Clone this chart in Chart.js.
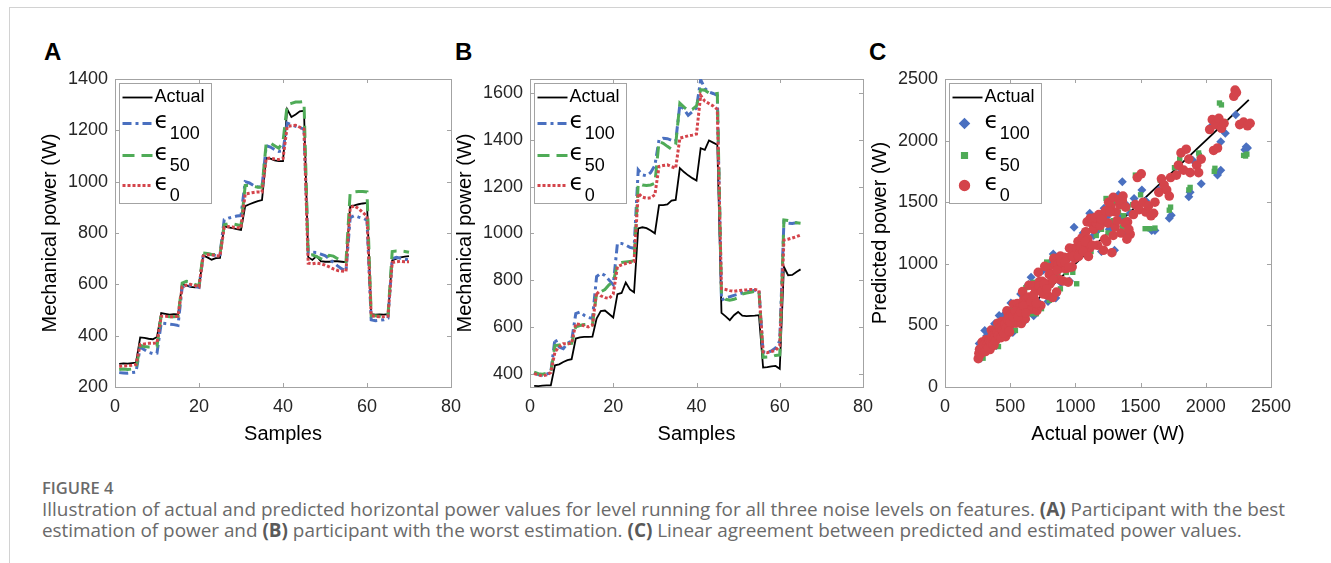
<!DOCTYPE html>
<html>
<head>
<meta charset="utf-8">
<script src="https://cdn.jsdelivr.net/npm/chart.js@4.4.0/dist/chart.umd.min.js"></script>
<style>
  body { margin:0; width:1331px; height:563px; background:#fff; position:relative; overflow:hidden; font-family:'Liberation Sans', Arial, sans-serif; }
  .frameTop { position:absolute; left:9px; top:7px; right:0; height:0; border-top:1px solid #d2d2d2; }
  .frameLeft { position:absolute; left:9px; top:7px; bottom:0; width:0; border-left:1px solid #d2d2d2; }
  .panel { position:absolute; font-weight:bold; font-size:24px; color:#000; }
  .wrap { position:absolute; top:60px; }
  #cap { position:absolute; left:42px; top:477px; width:1289px; font-family:'Open Sans', sans-serif; color:#6a6a6a; font-size:18.9px; line-height:21.5px; white-space:nowrap; }
  #cap .fig { font-weight:600; font-size:16.5px; }
  #cap b { font-weight:700; color:#5a5a5a; }
</style>
</head>
<body>
<div class="frameTop"></div>
<div class="frameLeft"></div>
<div class="panel" style="left:44px;top:38px">A</div>
<div class="panel" style="left:455px;top:38px">B</div>
<div class="panel" style="left:869px;top:38px">C</div>
<div class="wrap" style="left:30px"><canvas id="chartA" width="440" height="400"></canvas></div>
<div class="wrap" style="left:445px"><canvas id="chartB" width="440" height="400"></canvas></div>
<div class="wrap" style="left:860px"><canvas id="chartC" width="440" height="400"></canvas></div>
<div id="cap">
  <div class="fig">FIGURE 4</div>
  <div>Illustration of actual and predicted horizontal power values for level running for all three noise levels on features. <b>(A)</b> Participant with the best<br>estimation of power and <b>(B)</b> participant with the worst estimation. <b>(C)</b> Linear agreement between predicted and estimated power values.</div>
</div>
<script>
var seriesNames = ['Actual', 'ϵ_100', 'ϵ_50', 'ϵ_0'];
var xTicksAB = [0, 20, 40, 60, 80];
var yTicksA = [200, 400, 600, 800, 1000, 1200, 1400];
var yTicksB = [400, 600, 800, 1000, 1200, 1400, 1600];
var ticksC = [0, 500, 1000, 1500, 2000, 2500];

// panel A : 70 samples
var actualA = [290,292,291,293,295, 393,391,388,386,395, 488,485,482,484,483, 602,596,590,588,590,
  713,705,696,702,703, 826,822,819,815,812, 905,912,918,924,928, 1093,1090,1083,1080,1080,
  1282,1252,1262,1274,1276, 706,695,710,690,688, 688,690,690,688,686, 905,908,912,915,917,
  484,482,483,482,484, 693,700,705,708,710];
var e100A = [256,255,254,256,258, 355,345,335,330,332, 449,447,445,443,440, 590,592,595,592,588,
  713,718,716,712,715, 852,858,862,866,868, 1000,995,985,980,978, 1140,1135,1125,1118,1120,
  1228,1222,1216,1210,1205, 722,725,724,718,712, 700,685,672,660,652, 860,868,862,858,850,
  462,458,460,462,468, 700,705,702,698,695];
var e50A = [268,270,268,270,272, 362,358,356,356,358, 478,476,474,474,475, 605,612,610,600,595,
  722,720,716,716,718, 832,836,836,832,828, 985,985,982,978,978, 1150,1150,1140,1130,1155,
  1300,1305,1310,1310,1312, 712,715,708,700,695, 713,710,700,692,688, 958,960,962,962,960,
  478,478,476,476,478, 728,730,730,728,725];
var e0A = [280,282,283,285,288, 365,368,370,370,372, 476,476,474,474,476, 590,597,600,595,590,
  710,715,715,712,710, 822,825,823,820,820, 952,955,958,960,960, 1090,1092,1088,1086,1090,
  1215,1218,1220,1212,1205, 682,680,683,680,675, 668,660,654,652,650, 900,905,895,880,865,
  478,475,474,474,476, 685,688,690,688,688];

// panel B : 65 samples
var actualB = [348,347,349,350,350, 436,440,450,458,462, 550,555,557,557,558, 636,668,670,655,640,
  740,745,790,760,748, 1021,1026,1022,1012,1000, 1121,1121,1124,1140,1143, 1279,1262,1248,1236,1226,
  1364,1357,1397,1388,1379, 660,645,629,650,664, 648,646,647,648,650, 426,428,431,433,421,
  857,821,822,835,846];
var e100B = [405,396,393,398,405, 550,514,507,530,540, 657,664,650,640,636, 815,829,820,800,780,
  957,957,950,940,936, 1271,1250,1246,1260,1290, 1400,1407,1405,1398,1393, 1550,1530,1505,1520,1536,
  1657,1620,1605,1598,1590, 714,725,729,735,740, 745,750,752,757,757, 493,491,497,510,540,
  1050,1043,1042,1045,1050];
var e50B = [407,400,398,402,405, 520,523,525,528,530, 600,606,610,612,608, 745,750,760,780,790,
  871,875,878,880,882, 1214,1207,1205,1207,1214, 1393,1385,1372,1360,1380, 1557,1540,1525,1530,1545,
  1614,1612,1600,1595,1598, 736,718,714,718,725, 740,745,748,752,755, 470,471,472,478,480,
  1057,1055,1050,1045,1043];
var e0B = [400,395,390,395,405, 493,515,528,528,530, 614,610,605,600,608, 750,733,725,722,740,
  857,865,871,875,879, 1171,1155,1150,1152,1165, 1286,1290,1293,1285,1279, 1407,1412,1417,1420,1425,
  1590,1565,1555,1545,1530, 764,760,755,752,755, 757,758,760,760,757, 493,490,495,500,520,
  971,975,980,986,993];

// panel C : [actual, predicted]
var actualC = [[260, 260], [2330, 2330]];
var e100C = [[262,354],[275,234],[290,348],[305,458],[320,416],[335,369],[350,308],[365,456],[380,513],[395,336],
  [415,581],[430,409],[445,579],[460,506],[475,418],[490,613],[505,682],[520,442],[540,648],[560,532],
  [580,754],[600,660],[620,546],[640,832],[660,891],[680,578],[700,840],[720,684],[750,945],[770,847],
  [790,695],[810,1013],[830,1079],[850,723],[870,1044],[890,846],[910,1019],[930,1023],[955,860],[975,1053],
  [990,1297],[1010,1120],[1030,1180],[1040,1080],[1060,1250],[1070,1190],[1090,1100],[1100,1150],[1110,1410],[1140,1230],
  [1160,1260],[1180,1290],[1200,1100],[1220,1450],[1240,1380],[1260,1280],[1270,1330],[1300,1110],[1330,1560],[1350,1380],
  [1360,1665],[1390,1480],[1400,1250],[1420,1410],[1450,1530],[1480,1460],[1510,1600],[1540,1510],[1585,1270],[1610,1270],
  [1640,1600],[1680,1650],[1720,1370],[1735,1395],[1770,1720],[1800,1780],[1870,1545],[1880,1580],[1900,1840],[1965,1650],
  [2040,2115],[2090,1720],[2115,1760],[2115,1990],[2150,2060],[2230,2210],[2300,1925],[2310,1950],[2320,1940]];
var e50C = [[265,239],[278,348],[292,234],[306,352],[320,336],[335,295],[350,455],[365,365],[380,342],[395,494],
  [410,328],[425,489],[440,462],[455,400],[470,611],[485,485],[500,450],[520,650],[540,459],[560,644],
  [580,609],[600,528],[620,806],[640,640],[660,594],[680,850],[700,595],[720,828],[740,636],[760,798],
  [780,1014],[800,704],[825,1056],[845,1056],[865,908],[885,797],[905,1041],[930,930],[955,1051],[980,931],
  [1010,838],[1030,1090],[1040,1160],[1060,1130],[1075,1240],[1090,1180],[1120,1100],[1125,1300],[1160,1230],[1180,1390],
  [1200,1280],[1235,1530],[1250,1250],[1260,1460],[1290,1350],[1310,1500],[1330,1420],[1360,1300],[1370,1390],[1400,1450],
  [1440,1480],[1460,1720],[1500,1560],[1535,1285],[1570,1285],[1610,1290],[1650,1680],[1720,1435],[1730,1460],[1760,1780],
  [1800,1850],[1870,1600],[1880,1620],[1945,1900],[1950,1880],[2065,1750],[2070,1775],[2105,2305],[2120,2290],[2150,2150],
  [2290,1880],[2305,1875],[2315,1890]];
var e0C = [[255,230],[265,305],[275,275],[285,365],[295,319],[305,290],[315,384],[325,338],[335,375],[345,304],
  [355,462],[365,431],[375,338],[385,443],[395,395],[405,518],[415,448],[425,404],[435,531],[445,463],
  [455,510],[465,409],[475,618],[485,572],[495,446],[505,581],[515,515],[525,672],[535,578],[545,518],
  [555,677],[565,588],[575,644],[585,515],[595,774],[605,714],[615,554],[625,719],[635,635],[645,826],
  [655,707],[665,632],[675,824],[685,712],[695,778],[705,620],[715,930],[725,856],[735,662],[745,857],
  [755,755],[765,979],[775,837],[785,746],[795,970],[805,837],[815,913],[825,726],[835,1044],[845,997],
  [855,770],[865,995],[875,875],[885,1062],[895,967],[905,860],[915,1052],[925,962],[935,1047],[945,851],
  [955,1127],[965,1062],[975,975],[985,1123],[995,1045],
  [260,273],[270,262],[280,308],[290,296],[300,342],[310,288],[320,336],[330,320],[340,374],[350,357],
  [360,410],[370,344],[380,399],[390,378],[400,440],[410,418],[420,479],[430,400],[440,462],[450,437],
  [460,506],[470,479],[480,547],[490,456],[500,525],[520,572],[540,616],[560,571],[580,609],[600,660],
  [620,601],[640,730],[660,693],[680,748],[700,679],[720,821],[740,777],[760,836],[780,796],[800,912],
  [830,872],[860,946],[890,1015],[920,1012],[950,969],[980,1058],
  [1010,1130],[1020,1180],[1035,1090],[1050,1210],[1065,1150],[1080,1260],[1095,1200],[1110,1130],[1125,1330],[1140,1280],
  [1160,1330],[1170,1150],[1190,1310],[1210,1390],[1225,1200],[1250,1330],[1270,1470],[1290,1230],[1310,1420],[1340,1480],
  [1360,1510],[1385,1460],[1400,1340],[1420,1240],
  [1025,1060],[1040,1140],[1060,1100],[1075,1180],[1090,1340],[1100,1060],[1115,1370],[1130,1150],[1150,1375],[1180,1400],
  [1200,1360],[1215,1110],[1230,1430],[1240,1180],[1255,1500],[1265,1420],[1280,1090],[1290,1540],[1305,1300],[1320,1350],
  [1335,1520],[1350,1250],[1365,1550],[1380,1330],[1395,1200],[1410,1280],[1445,1400],[1460,1480],[1475,1700],[1490,1440],
  [1505,1730],[1520,1500],[1540,1420],[1560,1470],[1580,1390],[1600,1410],[1610,1500],[1640,1580],[1660,1690],[1680,1640],
  [1700,1600],[1720,1550],[1730,1700],[1775,1720],[1790,1800],[1810,1900],[1830,1760],[1850,1930],[1870,1850],[1880,1740],
  [1930,1800],[1945,1740],[1965,1850],[2030,2090],[2050,2170],[2060,1920],[2075,2130],[2090,1940],[2100,2180],[2120,2100],
  [2140,2140],[2215,2360],[2225,2410],[2235,2390],[2260,2130],[2290,2150],[2320,2120],[2340,2140]];

var colBlack = '#000000';
var colBlue = '#4a70c0';
var colGreen = '#4fab57';
var colRed = '#d4444b';
var tickColor = '#262626';
var boxColor = '#a3a3a3';

Chart.defaults.font.family = "'Liberation Sans', Arial, sans-serif";
Chart.defaults.color = tickColor;

// matlab style box with inward ticks
var axesBox = {
  id: 'axesBox',
  beforeDatasetsDraw: function(chart) {
    var ctx = chart.ctx, a = chart.chartArea, sx = chart.scales.x, sy = chart.scales.y;
    ctx.save();
    ctx.strokeStyle = boxColor;
    ctx.lineWidth = 1;
    ctx.strokeRect(Math.round(a.left) + 0.5, Math.round(a.top) + 0.5, Math.round(a.right - a.left), Math.round(a.bottom - a.top));
    ctx.beginPath();
    sx.ticks.forEach(function(t) {
      var p = Math.round(sx.getPixelForValue(t.value)) + 0.5;
      ctx.moveTo(p, a.bottom); ctx.lineTo(p, a.bottom - 4);
      ctx.moveTo(p, a.top); ctx.lineTo(p, a.top + 4);
    });
    sy.ticks.forEach(function(t) {
      var p = Math.round(sy.getPixelForValue(t.value)) + 0.5;
      ctx.moveTo(a.left, p); ctx.lineTo(a.left + 4, p);
      ctx.moveTo(a.right, p); ctx.lineTo(a.right - 4, p);
    });
    ctx.stroke();
    ctx.restore();
  }
};

// legend with subscripts
var legendBox = {
  id: 'legendBox',
  afterDraw: function(chart) {
    var ctx = chart.ctx, a = chart.chartArea;
    var x0 = Math.round(a.left) + 4.5, y0 = Math.round(a.top) + 4.5;
    var rows = [14, 40, 72, 102];
    ctx.save();
    ctx.fillStyle = '#fff';
    ctx.fillRect(x0, y0, 92, 120);
    ctx.strokeStyle = boxColor;
    ctx.lineWidth = 1;
    ctx.strokeRect(x0, y0, 92, 120);
    chart.data.datasets.forEach(function(ds, i) {
      var y = y0 + rows[i];
      var parts = ds.label.split('_');
      if (ds.showLine === false) {
        ctx.fillStyle = ds.backgroundColor;
        ctx.strokeStyle = ds.borderColor;
        Chart.helpers.drawPoint(ctx, {pointStyle: ds.pointStyle, radius: ds.pointRadius, borderWidth: 1, rotation: 0}, x0 + 15, y);
      } else {
        ctx.strokeStyle = ds.borderColor;
        ctx.lineWidth = ds.borderWidth;
        ctx.setLineDash(ds.borderDash || []);
        ctx.beginPath();
        ctx.moveTo(x0 + 3, y);
        ctx.lineTo(x0 + 33, y);
        ctx.stroke();
        ctx.setLineDash([]);
      }
      ctx.fillStyle = '#000';
      ctx.textBaseline = 'middle';
      ctx.textAlign = 'left';
      if (parts[1]) {
        ctx.font = "23px 'DejaVu Sans', 'Liberation Sans', sans-serif";
        ctx.fillText(parts[0], x0 + 35, y - 1);
        var w = ctx.measureText(parts[0]).width;
        ctx.font = "18px 'Liberation Sans', Arial, sans-serif";
        ctx.fillText(parts[1], x0 + 36 + w, y + 11);
      } else {
        ctx.font = "18px 'Liberation Sans', Arial, sans-serif";
        ctx.fillText(parts[0], x0 + 35, y);
      }
    });
    ctx.restore();
  }
};

function setTicks(list) {
  return function(ax) { ax.ticks = list.map(function(v) { return {value: v}; }); };
}

function axisOpts(min, max, ticks, title, isX, padTitle) {
  return {
    type: 'linear', min: min, max: max,
    afterBuildTicks: setTicks(ticks),
    afterFit: isX ? function(ax) { ax.height = 73; } : function(ax) { ax.width = 85; },
    grid: {display: false, drawTicks: false},
    border: {display: false},
    ticks: {padding: isX ? 9 : 7, font: {size: 18}, color: tickColor, maxRotation: 0, autoSkip: false,
      callback: function(v) { return String(v); }},
    title: {display: true, text: title, color: '#000', font: {size: 20}, padding: padTitle}
  };
}

function sampleLabels(n) {
  var out = [];
  for (var i = 1; i <= n; i++) out.push(i);
  return out;
}

function lineSets(actual, e100, e50, e0) {
  return [
    {label: seriesNames[0], data: actual, borderColor: colBlack, borderWidth: 1.8, pointRadius: 0, order: 3, tension: 0},
    {label: seriesNames[1], data: e100, borderColor: colBlue, borderWidth: 3, borderDash: [9, 4, 3, 4], pointRadius: 0, order: 2},
    {label: seriesNames[2], data: e50, borderColor: colGreen, borderWidth: 3, borderDash: [12, 7], pointRadius: 0, order: 1},
    {label: seriesNames[3], data: e0, borderColor: colRed, borderWidth: 3, borderDash: [3, 2], pointRadius: 0, order: 0}
  ];
}

function lineChart(id, labels, sets, yMin, yMax, yTicks, padRight) {
  new Chart(document.getElementById(id).getContext('2d'), {
    type: 'line',
    data: {labels: labels, datasets: sets},
    options: {
      responsive: false,
      animation: false,
      layout: {padding: {left: 0, top: 19, right: padRight, bottom: 0}},
      plugins: {legend: {display: false}, tooltip: {enabled: false}},
      scales: {
        x: axisOpts(0, 80, xTicksAB, 'Samples', true, {bottom: 14}),
        y: axisOpts(yMin, yMax, yTicks, 'Mechanical power (W)', false, {top: 8})
      }
    },
    plugins: [axesBox, legendBox]
  });
}

lineChart('chartA', sampleLabels(actualA.length), lineSets(actualA, e100A, e50A, e0A), 200, 1400, yTicksA, 19);
lineChart('chartB', sampleLabels(actualB.length), lineSets(actualB, e100B, e50B, e0B), 343, 1660, yTicksB, 22);

function pts(list) {
  return list.map(function(p) { return {x: p[0], y: p[1]}; });
}

new Chart(document.getElementById('chartC').getContext('2d'), {
  type: 'scatter',
  data: {
    datasets: [
      {label: seriesNames[0], data: pts(actualC), showLine: true, borderColor: colBlack, borderWidth: 1.8, pointRadius: 0, order: 3},
      {label: seriesNames[1], data: pts(e100C), showLine: false, pointStyle: 'rectRot', pointRadius: 4.5, backgroundColor: colBlue, borderColor: colBlue, borderWidth: 0, order: 2},
      {label: seriesNames[2], data: pts(e50C), showLine: false, pointStyle: 'rect', pointRadius: 3.8, backgroundColor: colGreen, borderColor: colGreen, borderWidth: 0, order: 1},
      {label: seriesNames[3], data: pts(e0C), showLine: false, pointStyle: 'circle', pointRadius: 4.8, backgroundColor: colRed, borderColor: colRed, borderWidth: 0, order: 0}
    ]
  },
  options: {
    responsive: false,
    animation: false,
    layout: {padding: {left: 0, top: 19, right: 22, bottom: 0}},
    plugins: {legend: {display: false}, tooltip: {enabled: false}},
    scales: {
      x: axisOpts(0, 2500, ticksC, 'Actual power (W)', true, {bottom: 14}),
      y: axisOpts(0, 2500, ticksC, 'Predicted power (W)', false, {top: 8})
    }
  },
  plugins: [axesBox, legendBox]
});
</script>
</body>
</html>
